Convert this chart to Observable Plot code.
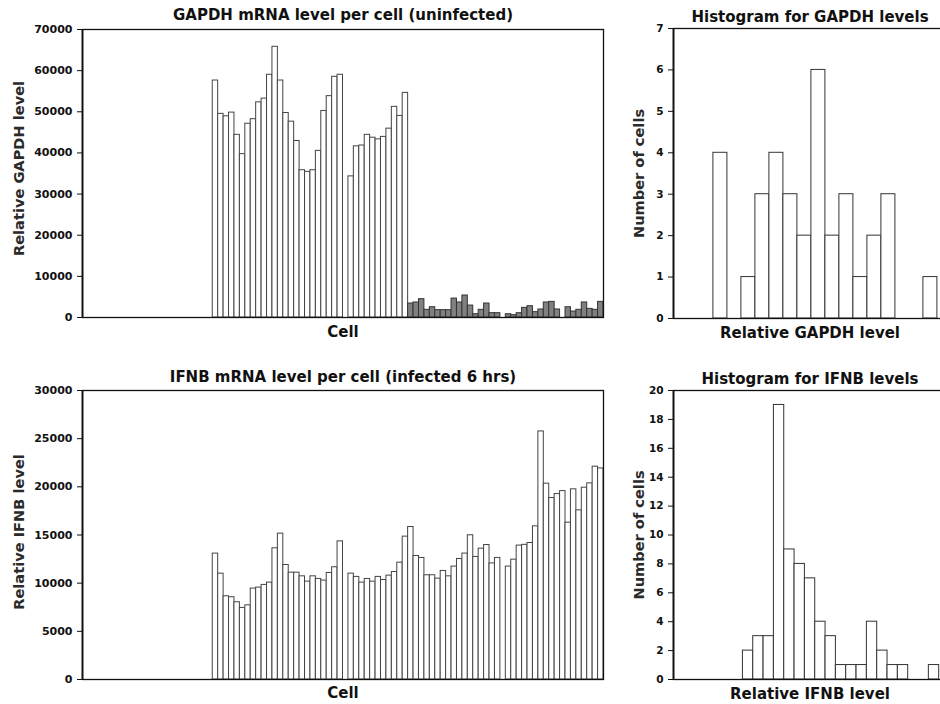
<!DOCTYPE html>
<html><head><meta charset="utf-8">
<script src="https://cdn.jsdelivr.net/npm/d3@7"></script>
<script src="https://cdn.jsdelivr.net/npm/@observablehq/plot@0.6"></script>
<style>
html,body{margin:0;padding:0;background:#fff;}
#wrap{position:relative;width:940px;height:704px;overflow:hidden;background:#fff;}
#wrap svg{position:absolute;}
</style></head><body><div id="wrap"></div>
<script>
// ---------- data ----------
const emptyCells = 24;            // leading empty cell slots on the cell axis
const gapdhUninfected = [57600, 49500, 48900, 49800, 44400, 39700, 47100, 48200, 52300, 53200, 59000, 65800,
  57600, 49700, 47600, 42900, 35800, 35400, 35800, 40500, 50200, 53800, 58500, 59000, 0, 34300, 41600, 41800,
  44400, 43700, 43300, 43900, 45900, 51200, 49000, 54600];
const gapdhBackground = [3400, 3650, 4450, 1870, 2500, 1780, 1780, 1780, 4600, 3650, 5350, 2900, 800, 1870, 3400,
  1050, 1050, 0, 800, 570, 1050, 2350, 2750, 1300, 1950, 3650, 3800, 1950, 0, 2500, 1450, 1870, 3650, 2100, 1870, 3800];
const ifnbInfected = [13070, 10990, 8640, 8540, 8020, 7430, 7700, 9440, 9540, 9820, 10060, 13620, 15140, 11890,
  11090, 11090, 10710, 10160, 10710, 10440, 10270, 11060, 11650, 14340, 0, 10990, 10650, 10060, 10440, 10160,
  10650, 10330, 10780, 11160, 12130, 14830, 15830, 12820, 12620, 10820, 10820, 10470, 11270, 10710, 11720, 12510,
  13070, 14970, 12720, 13580, 13960, 12050, 12620, 0, 11720, 12440, 13900, 13980, 14170, 15900, 25750, 20330,
  18840, 19250, 19560, 16280, 19740, 17560, 19910, 20360, 22090, 21910];

const gapdhBinStart = [34000, 36000, 38000, 40000, 42000, 44000, 46000, 48000, 50000, 52000, 54000, 56000, 58000, 60000, 62000, 64000];
const gapdhBinWidth = 2000;
const gapdhBinCounts = [4, 0, 1, 3, 4, 3, 2, 6, 2, 3, 1, 2, 3, 0, 0, 1];

const ifnbBinStart = [7000, 8000, 9000, 10000, 11000, 12000, 13000, 14000, 15000, 16000, 17000, 18000, 19000, 20000, 21000, 22000, 23000, 24000, 25000];
const ifnbBinWidth = 1000;
const ifnbBinCounts = [2, 3, 3, 19, 9, 8, 7, 4, 3, 1, 1, 1, 4, 2, 1, 1, 0, 0, 1];

const gapdhTicks = [0, 10000, 20000, 30000, 40000, 50000, 60000, 70000];
const ifnbTicks = [0, 5000, 10000, 15000, 20000, 25000, 30000];
const gapdhHistTicks = [0, 1, 2, 3, 4, 5, 6, 7];
const ifnbHistTicks = [0, 2, 4, 6, 8, 10, 12, 14, 16, 18, 20];

const titles = {
  gapdh: "GAPDH mRNA level per cell (uninfected)",
  ifnb: "IFNB mRNA level per cell (infected 6 hrs)",
  gapdhHist: "Histogram for GAPDH levels",
  ifnbHist: "Histogram for IFNB levels"
};
const labels = {
  gapdhY: "Relative GAPDH level", ifnbY: "Relative IFNB level", cell: "Cell",
  count: "Number of cells", gapdhX: "Relative GAPDH level", ifnbX: "Relative IFNB level"
};

// ---------- build ----------
const wrap = document.getElementById("wrap");
const FONT = "DejaVu Sans";
const style = {fontFamily: FONT, fontSize: "11px", fontWeight: "bold", color: "#111", background: "transparent", overflow: "visible"};
function place(svg, left, top) { svg.style.left = left + "px"; svg.style.top = top + "px"; wrap.appendChild(svg); }

const totalCells = emptyCells + gapdhUninfected.length + gapdhBackground.length;
const totalCells2 = emptyCells + ifnbInfected.length;
const whiteRows = gapdhUninfected.map((v, i) => ({c0: emptyCells + i, c1: emptyCells + i + 1, v}));
const grayRows = gapdhBackground.map((v, i) => ({c0: emptyCells + gapdhUninfected.length + i, c1: emptyCells + gapdhUninfected.length + i + 1, v}));
const ifnbRows = ifnbInfected.map((v, i) => ({c0: emptyCells + i, c1: emptyCells + i + 1, v}));

function txt(s, o) {
  return Plot.text([s], Object.assign({text: d => d, fill: "#111", fontFamily: FONT, textAnchor: "middle", lineAnchor: "middle"}, o));
}
const yLab = {rotate: -90, fontSize: 14.6, fontWeight: "bold", fill: "#2a2a2a"};

// Top-left
place(Plot.plot({
  width: 610, height: 344, marginLeft: 82, marginTop: 29, marginRight: 7, marginBottom: 27,
  style,
  x: {type: "linear", domain: [0, totalCells], axis: null},
  y: {domain: [0, 70000], ticks: gapdhTicks, tickFormat: d => String(d), tickSize: 5, tickPadding: 5, label: null},
  marks: [
    Plot.rectY(whiteRows, {x1: "c0", x2: "c1", y: "v", fill: "#fff", stroke: "#444", strokeWidth: 1}),
    Plot.rectY(grayRows, {x1: "c0", x2: "c1", y: "v", fill: "#808080", stroke: "#333", strokeWidth: 1}),
    Plot.frame({stroke: "#111", strokeWidth: 1.3}),
    Plot.ruleX([0], {x: () => 0, stroke: "#111", strokeWidth: 1.8}),
    txt(titles.gapdh, {frameAnchor: "top", dy: -14, fontSize: 15, fontWeight: "bold"}),
    txt(labels.gapdhY, Object.assign({frameAnchor: "left", dx: -63, dy: -5}, yLab)),
    txt(labels.cell, {frameAnchor: "bottom", dy: 14.5, fontSize: 15, fontWeight: "bold"})
  ]
}), 0, 0);

// Bottom-left
place(Plot.plot({
  width: 610, height: 342, marginLeft: 82, marginTop: 29, marginRight: 7, marginBottom: 24,
  style,
  x: {type: "linear", domain: [0, totalCells2], axis: null},
  y: {domain: [0, 30000], ticks: ifnbTicks, tickFormat: d => String(d), tickSize: 5, tickPadding: 5, label: null},
  marks: [
    Plot.rectY(ifnbRows, {x1: "c0", x2: "c1", y: "v", fill: "#fff", stroke: "#444", strokeWidth: 1}),
    Plot.frame({stroke: "#111", strokeWidth: 1.3}),
    Plot.ruleX([0], {x: () => 0, stroke: "#111", strokeWidth: 1.8}),
    txt(titles.ifnb, {frameAnchor: "top", dy: -13.5, fontSize: 15, fontWeight: "bold"}),
    txt(labels.ifnbY, Object.assign({frameAnchor: "left", dx: -63, dy: -3}, yLab)),
    txt(labels.cell, {frameAnchor: "bottom", dy: 14, fontSize: 15, fontWeight: "bold"})
  ]
}), 0, 361);

// Top-right histogram
const gapdhHistRows = gapdhBinStart.map((b, i) => ({x1: b, x2: b + gapdhBinWidth, n: gapdhBinCounts[i]}));
place(Plot.plot({
  width: 346, height: 344, marginLeft: 73, marginTop: 28, marginRight: 0, marginBottom: 26,
  style: Object.assign({}, style, {fontSize: "10.5px"}),
  x: {type: "linear", domain: [28300, 67300], axis: null},
  y: {domain: [0, 7], ticks: gapdhHistTicks, tickFormat: d => String(d), tickSize: 5, tickPadding: 5, label: null},
  marks: [
    Plot.rectY(gapdhHistRows, {x1: "x1", x2: "x2", y: "n", fill: "#fff", stroke: "#333", strokeWidth: 1}),
    Plot.frame({stroke: "#111", strokeWidth: 1.3}),
    Plot.ruleX([28300], {stroke: "#111", strokeWidth: 1.8}),
    txt(titles.gapdhHist, {frameAnchor: "top", dy: -11, fontSize: 15, fontWeight: "bold"}),
    txt(labels.count, Object.assign({frameAnchor: "left", dx: -34, dy: 0}, yLab)),
    txt(labels.gapdhX, {frameAnchor: "bottom", dy: 14.5, fontSize: 15, fontWeight: "bold"})
  ]
}), 600, 0);

// Bottom-right histogram
const ifnbHistRows = ifnbBinStart.map((b, i) => ({x1: b, x2: b + ifnbBinWidth, n: ifnbBinCounts[i]}));
place(Plot.plot({
  width: 346, height: 342, marginLeft: 73, marginTop: 29, marginRight: 0, marginBottom: 24,
  style: Object.assign({}, style, {fontSize: "10.5px"}),
  x: {type: "linear", domain: [280, 26708], axis: null},
  y: {domain: [0, 20], ticks: ifnbHistTicks, tickFormat: d => String(d), tickSize: 5, tickPadding: 5, label: null},
  marks: [
    Plot.rectY(ifnbHistRows, {x1: "x1", x2: "x2", y: "n", fill: "#fff", stroke: "#333", strokeWidth: 1}),
    Plot.frame({stroke: "#111", strokeWidth: 1.3}),
    Plot.ruleX([280], {stroke: "#111", strokeWidth: 1.8}),
    txt(titles.ifnbHist, {frameAnchor: "top", dy: -11.5, fontSize: 15, fontWeight: "bold"}),
    txt(labels.count, Object.assign({frameAnchor: "left", dx: -34, dy: 0}, yLab)),
    txt(labels.ifnbX, {frameAnchor: "bottom", dy: 14.5, fontSize: 15, fontWeight: "bold"})
  ]
}), 600, 361);
</script></body></html>
